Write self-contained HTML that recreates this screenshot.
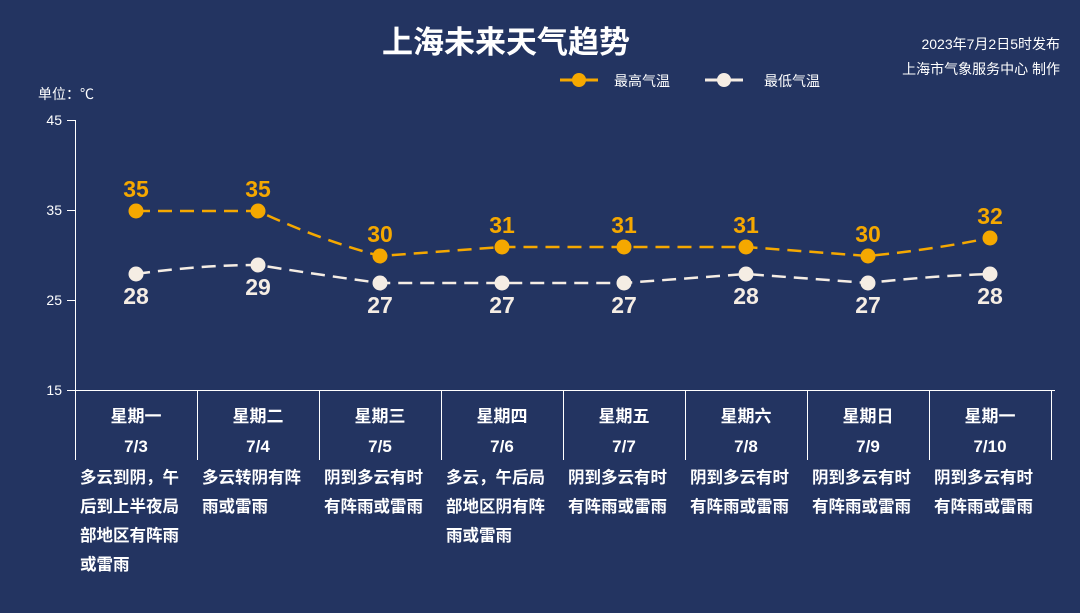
<!DOCTYPE html>
<html><head><meta charset="utf-8"><style>
html,body{margin:0;padding:0;background:#233461;}
body{width:1080px;height:613px;overflow:hidden;position:relative;font-family:"Liberation Sans","Noto Sans CJK SC",sans-serif;color:#fff;}
.desc{position:absolute;top:464px;width:104px;font-size:16.5px;font-weight:bold;line-height:29px;color:#fff;word-break:break-all;}
</style></head><body>
<svg width="1080" height="613" style="position:absolute;left:0;top:0" font-family="Liberation Sans, Noto Sans CJK SC, sans-serif">
<text x="506" y="53" fill="#fff" font-size="31" font-weight="bold" text-anchor="middle">上海未来天气趋势</text>
<text x="1060" y="49" fill="#fff" font-size="14" text-anchor="end">2023年7月2日5时发布</text>
<text x="1060" y="74" fill="#fff" font-size="14" text-anchor="end">上海市气象服务中心 制作</text>
<line x1="560" y1="80" x2="598" y2="80" stroke="#f5a800" stroke-width="3"/><circle cx="579" cy="80" r="7" fill="#f5a800"/>
<text x="614" y="86" fill="#fff" font-size="14">最高气温</text>
<line x1="705" y1="80" x2="743" y2="80" stroke="#f5ede4" stroke-width="3"/><circle cx="724" cy="80" r="7" fill="#f5ede4"/>
<text x="764" y="86" fill="#fff" font-size="14">最低气温</text>
<text x="38" y="99" fill="#fff" font-size="14">单位：℃</text>
<g stroke="#fff" stroke-width="1">
<line x1="75.5" y1="120" x2="75.5" y2="390"/>
<line x1="67" y1="120.5" x2="75" y2="120.5"/><line x1="67" y1="210.5" x2="75" y2="210.5"/><line x1="67" y1="300.5" x2="75" y2="300.5"/>
<line x1="67" y1="390.5" x2="1055" y2="390.5"/>
<line x1="75.5" y1="390" x2="75.5" y2="460"/><line x1="197.5" y1="390" x2="197.5" y2="460"/><line x1="319.5" y1="390" x2="319.5" y2="460"/><line x1="441.5" y1="390" x2="441.5" y2="460"/><line x1="563.5" y1="390" x2="563.5" y2="460"/><line x1="685.5" y1="390" x2="685.5" y2="460"/><line x1="807.5" y1="390" x2="807.5" y2="460"/><line x1="929.5" y1="390" x2="929.5" y2="460"/><line x1="1051.5" y1="390" x2="1051.5" y2="460"/>
</g>
<g fill="#fff" font-size="14" text-anchor="end">
<text x="62" y="125">45</text><text x="62" y="215">35</text><text x="62" y="305">25</text><text x="62" y="395">15</text>
</g>
<path d="M136 211 L258 211 Q320 240 380 256 L502 247 L624 247 L746 247 L868 256 Q930 250 990 238" fill="none" stroke="#f5a800" stroke-width="2.5" stroke-dasharray="14,8"/>
<path d="M136 274 Q200 265 258 265 Q320 275 380 283 L502 283 L624 283 L746 274 L868 283 Q930 276 990 274" fill="none" stroke="#f5ede4" stroke-width="2.5" stroke-dasharray="14,8"/>
<g fill="#f5a800"><circle cx="136" cy="211" r="7.5"/><circle cx="258" cy="211" r="7.5"/><circle cx="380" cy="256" r="7.5"/><circle cx="502" cy="247" r="7.5"/><circle cx="624" cy="247" r="7.5"/><circle cx="746" cy="247" r="7.5"/><circle cx="868" cy="256" r="7.5"/><circle cx="990" cy="238" r="7.5"/></g>
<g fill="#f5ede4"><circle cx="136" cy="274" r="7.5"/><circle cx="258" cy="265" r="7.5"/><circle cx="380" cy="283" r="7.5"/><circle cx="502" cy="283" r="7.5"/><circle cx="624" cy="283" r="7.5"/><circle cx="746" cy="274" r="7.5"/><circle cx="868" cy="283" r="7.5"/><circle cx="990" cy="274" r="7.5"/></g>
<g fill="#f5a800" font-size="23" font-weight="bold" text-anchor="middle">
<text x="136" y="197">35</text><text x="258" y="197">35</text><text x="380" y="242">30</text><text x="502" y="233">31</text><text x="624" y="233">31</text><text x="746" y="233">31</text><text x="868" y="242">30</text><text x="990" y="224">32</text>
</g>
<g fill="#f5ede4" font-size="23" font-weight="bold" text-anchor="middle">
<text x="136" y="304">28</text><text x="258" y="295">29</text><text x="380" y="313">27</text><text x="502" y="313">27</text><text x="624" y="313">27</text><text x="746" y="304">28</text><text x="868" y="313">27</text><text x="990" y="304">28</text>
</g>
<g fill="#fff" font-size="17" font-weight="bold" text-anchor="middle">
<text x="136" y="422">星期一</text><text x="258" y="422">星期二</text><text x="380" y="422">星期三</text><text x="502" y="422">星期四</text><text x="624" y="422">星期五</text><text x="746" y="422">星期六</text><text x="868" y="422">星期日</text><text x="990" y="422">星期一</text>
<text x="136" y="452">7/3</text><text x="258" y="452">7/4</text><text x="380" y="452">7/5</text><text x="502" y="452">7/6</text><text x="624" y="452">7/7</text><text x="746" y="452">7/8</text><text x="868" y="452">7/9</text><text x="990" y="452">7/10</text>
</g>
</svg>
<div class="desc" style="left:80px">多云到阴，午<br>后到上半夜局<br>部地区有阵雨<br>或雷雨</div>
<div class="desc" style="left:202px">多云转阴有阵<br>雨或雷雨</div>
<div class="desc" style="left:324px">阴到多云有时<br>有阵雨或雷雨</div>
<div class="desc" style="left:446px">多云，午后局<br>部地区阴有阵<br>雨或雷雨</div>
<div class="desc" style="left:568px">阴到多云有时<br>有阵雨或雷雨</div>
<div class="desc" style="left:690px">阴到多云有时<br>有阵雨或雷雨</div>
<div class="desc" style="left:812px">阴到多云有时<br>有阵雨或雷雨</div>
<div class="desc" style="left:934px">阴到多云有时<br>有阵雨或雷雨</div>
</body></html>
